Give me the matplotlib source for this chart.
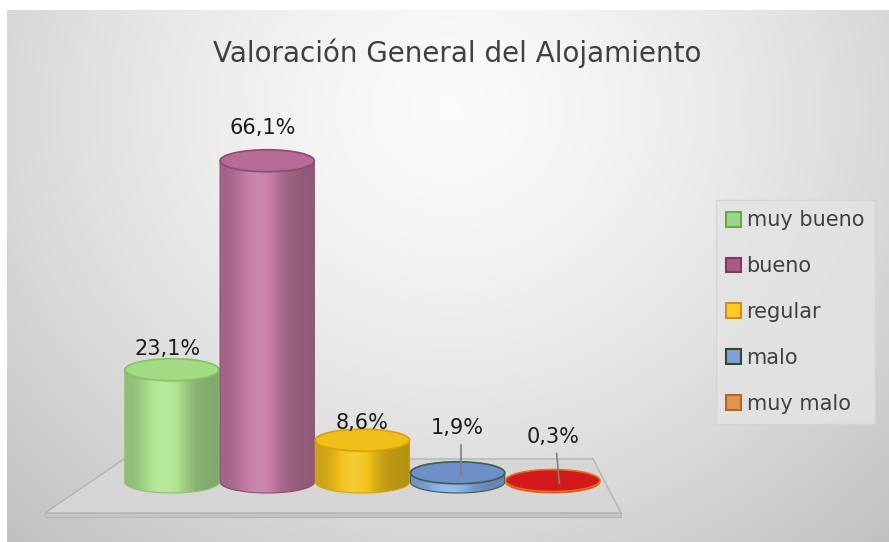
import numpy as np
import matplotlib.pyplot as plt
from matplotlib.patches import Ellipse, Polygon, PathPatch, Patch
from matplotlib.path import Path
from matplotlib.colors import to_rgb

# data
categories = ["muy bueno", "bueno", "regular", "malo", "muy malo"]
values = [23.1, 66.1, 8.6, 1.9, 0.3]
labels = ["23,1%", "66,1%", "8,6%", "1,9%", "0,3%"]

# colours (side, top, rim) and legend swatches
side_colors = ["#aee590", "#c47aa3", "#f4c41a", "#8db0ea", "#c81818"]
top_colors = ["#a2db84", "#b56b95", "#efbf1c", "#6f8fc8", "#d21a1a"]
rim_colors = ["#84c266", "#8c4a70", "#d6a200", "#3d5d50", "#e0701c"]
legend_faces = ["#a0d48a", "#a65c84", "#ffc926", "#7f9fd6", "#dd9550"]
legend_edges = ["#6aa84f", "#7b3b5e", "#c8940a", "#2e4a2e", "#b5651d"]

W, H = 889, 542
fig = plt.figure(figsize=(W / 100, H / 100), dpi=100)
fig.patch.set_facecolor("white")

# -----------------------------
# background panel (pixel coords)
# -----------------------------
bg = fig.add_axes([0, 0, 1, 1])
yy, xx = np.mgrid[10:H, 7:W]
r = np.sqrt(((xx - 450) / 560.0) ** 2 + ((yy - 110) / 520.0) ** 2)
shade = np.clip(0.985 - 0.19 * r ** 1.4, 0, 1)
bg.imshow(np.dstack([shade] * 3), extent=[7, W, H, 10],
          aspect="auto", interpolation="bilinear", zorder=0)
bg.set_xlim(0, W)
bg.set_ylim(H, 0)
bg.axis("off")

# floor
bg.add_patch(Polygon([(124, 459), (593, 459), (621, 513), (45, 513)],
                     closed=True, facecolor="#d6d6d6", edgecolor="#b4b4b4",
                     lw=1, zorder=1))
bg.add_patch(Polygon([(45, 513), (621, 513), (621, 517), (45, 517)],
                     closed=True, facecolor="#c6c6c6", edgecolor="#b4b4b4",
                     lw=0.8, zorder=1))

bg.text(457, 53, "Valoración General del Alojamiento", fontsize=20,
        color="#404040", ha="center", va="center")

# legend
handles = [Patch(facecolor=f, edgecolor=e, lw=1.5)
           for f, e in zip(legend_faces, legend_edges)]
leg = bg.legend(handles, categories, loc="upper left",
                bbox_to_anchor=(716 / W, 1 - 200 / H), fontsize=15,
                labelspacing=1.24, handlelength=0.72, handleheight=0.72,
                handletextpad=0.25, borderpad=0.5, borderaxespad=0,
                frameon=True, fancybox=False, labelcolor="#404040")
leg.get_frame().set_facecolor("#e4e4e4")
leg.get_frame().set_edgecolor("#d2d2d2")
leg.set_zorder(5)

# -----------------------------
# cylinders (data coords)
# -----------------------------
ax = fig.add_axes([0, 0, 1, 1])
ax.patch.set_alpha(0)
x0_px, dx_px = 172, 95.2     # category 0 centre, px per category
base_px, k_px = 482, 4.86    # base line, px per percent
ax.set_xlim(-x0_px / dx_px, (W - x0_px) / dx_px)
ax.set_ylim(-(H - base_px) / k_px, base_px / k_px)
ax.set_autoscale_on(False)
ax.axis("off")

eh = 22 / k_px      # ellipse height in data units
bw = 0.99           # cylinder width


def tint(c, f):
    c = np.array(to_rgb(c))
    if f < 1:
        return c * f
    return c + (1 - c) * (f - 1)


u = np.linspace(0, 1, 120)
prof = 0.82 + 0.32 * np.exp(-((u - 0.42) / 0.22) ** 2) - 0.08 * u

label_off = [21, 33, 17, 45, 44]   # px above top of value

for i, (v, lab) in enumerate(zip(values, labels)):
    xl, xr = i - bw / 2, i + bw / 2
    t = np.linspace(np.pi, 2 * np.pi, 40)
    arc = np.column_stack([i + bw / 2 * np.cos(t), eh / 2 * np.sin(t)])
    verts = np.vstack([[[xl, v]], arc, [[xr, v]], [[xl, v]]])
    body = Path(verts, closed=True)

    grad = np.array([tint(side_colors[i], f) for f in prof])[None, :, :]
    im = ax.imshow(grad, extent=[xl, xr, -eh / 2, v], aspect="auto",
                   interpolation="bilinear", zorder=2 + i)
    outline = PathPatch(body, facecolor="none", edgecolor=rim_colors[i],
                        lw=0.8, zorder=2 + i)
    ax.add_patch(outline)
    im.set_clip_path(outline)

    ax.add_patch(Ellipse((i, v), bw, eh, facecolor=top_colors[i],
                         edgecolor=rim_colors[i], lw=1.2, zorder=2.5 + i))

    ly = v + label_off[i] / k_px
    ax.text(i - 0.05 * (i < 2), ly, lab, fontsize=15, color="#1c1c1c",
            ha="center", va="center", zorder=10)
    if v < 5:
        ax.plot([i + 0.04, i + 0.04 + 0.03 * (i == 4)],
                [ly - 17 / k_px, v - 3 / k_px], color="#808080", lw=1.2,
                zorder=9)

fig.savefig("out.png", dpi=100)
